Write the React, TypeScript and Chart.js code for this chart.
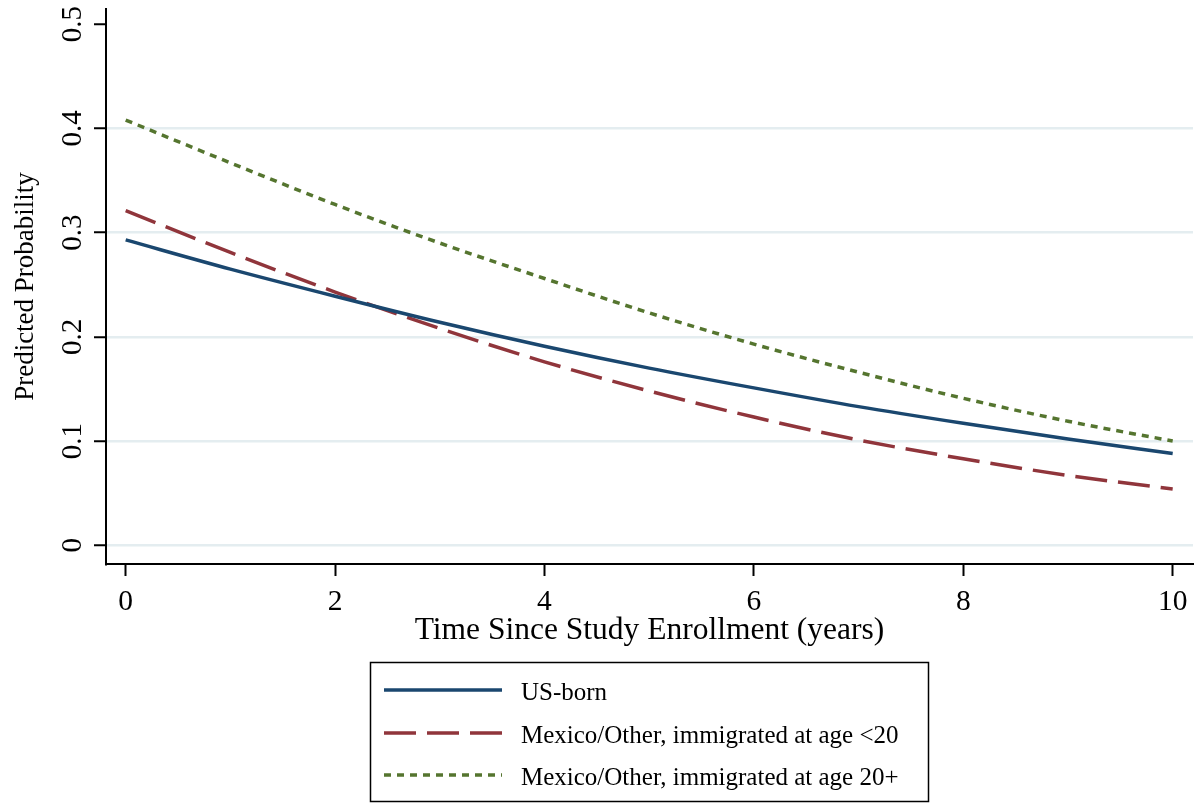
import React, { useEffect, useRef } from "react";
import { Chart, registerables } from "chart.js";

Chart.register(...registerables);

const years = [0, 1, 2, 3, 4, 5, 6, 7, 8, 9, 10];
const usBorn = [0.293, 0.265, 0.239, 0.214, 0.191, 0.17, 0.151, 0.133, 0.117, 0.102, 0.088];
const immigUnder20 = [0.321, 0.281, 0.243, 0.208, 0.176, 0.148, 0.123, 0.101, 0.083, 0.067, 0.054];
const immig20Plus = [0.408, 0.367, 0.327, 0.29, 0.256, 0.223, 0.193, 0.166, 0.141, 0.119, 0.1];
const seriesLabels = [
  "US-born",
  "Mexico/Other, immigrated at age <20",
  "Mexico/Other, immigrated at age 20+",
];
const xTicks = [0, 2, 4, 6, 8, 10];
const yTicks = [0, 0.1, 0.2, 0.3, 0.4, 0.5];
const yTickLabels = ["0", "0.1", "0.2", "0.3", "0.4", "0.5"];
const xTitle = "Time Since Study Enrollment (years)";
const yTitle = "Predicted Probability";

const FONT = '"Liberation Serif", "Times New Roman", serif';
const NAVY = "#1a476f";
const MAROON = "#90353b";
const FOREST = "#55752f";
const GRID = "#e4edf0";

const textPlugin = {
  id: "stataText",
  afterDraw(chart: any) {
    const ctx = chart.ctx;
    const xs = chart.scales.x;
    const ys = chart.scales.y;
    ctx.save();
    ctx.fillStyle = "#000";
    // x tick labels
    ctx.font = `29.5px ${FONT}`;
    ctx.textAlign = "center";
    ctx.textBaseline = "alphabetic";
    xTicks.forEach((v) => {
      ctx.fillText(String(v), xs.getPixelForValue(v), 610);
    });
    // y tick labels (rotated)
    ctx.font = `29px ${FONT}`;
    yTicks.forEach((v, i) => {
      ctx.save();
      ctx.translate(81, ys.getPixelForValue(v));
      ctx.rotate(-Math.PI / 2);
      ctx.textAlign = "center";
      ctx.fillText(yTickLabels[i], 0, 0);
      ctx.restore();
    });
    // x title
    ctx.font = `31.5px ${FONT}`;
    ctx.textAlign = "center";
    ctx.fillText(xTitle, (chart.chartArea.left + chart.chartArea.right) / 2, 639);
    // y title
    ctx.save();
    ctx.font = `27px ${FONT}`;
    ctx.translate(33, (chart.chartArea.top + chart.chartArea.bottom) / 2);
    ctx.rotate(-Math.PI / 2);
    ctx.textAlign = "center";
    ctx.fillText(yTitle, 0, 0);
    ctx.restore();

    // legend
    ctx.lineWidth = 1.5;
    ctx.strokeStyle = "#000";
    ctx.setLineDash([]);
    ctx.strokeRect(370.5, 662.5, 558, 139);
    const rows = [690, 733, 775];
    chart.data.datasets.forEach((ds: any, i: number) => {
      const y = rows[i];
      ctx.beginPath();
      ctx.strokeStyle = ds.borderColor;
      ctx.lineWidth = ds.borderWidth;
      ctx.setLineDash(ds.borderDash || []);
      ctx.moveTo(384, y);
      ctx.lineTo(502, y);
      ctx.stroke();
      ctx.setLineDash([]);
      ctx.fillStyle = "#000";
      ctx.font = `25px ${FONT}`;
      ctx.textAlign = "left";
      ctx.textBaseline = "alphabetic";
      ctx.fillText(ds.label, 521, y + 9.5);
    });
    ctx.restore();
  },
};

export default function App() {
  const ref = useRef<HTMLCanvasElement | null>(null);
  useEffect(() => {
    if (!ref.current) return;
    const chart = new Chart(ref.current, {
      type: "line",
      data: {
        datasets: [
          {
            label: seriesLabels[0],
            data: years.map((x, i) => ({ x, y: usBorn[i] })),
            borderColor: NAVY,
            borderWidth: 3.5,
            pointRadius: 0,
            cubicInterpolationMode: "monotone",
          },
          {
            label: seriesLabels[1],
            data: years.map((x, i) => ({ x, y: immigUnder20[i] })),
            borderColor: MAROON,
            borderWidth: 3.5,
            borderDash: [32, 11],
            pointRadius: 0,
            cubicInterpolationMode: "monotone",
          },
          {
            label: seriesLabels[2],
            data: years.map((x, i) => ({ x, y: immig20Plus[i] })),
            borderColor: FOREST,
            borderWidth: 3.5,
            borderDash: [7, 6],
            pointRadius: 0,
            cubicInterpolationMode: "monotone",
          },
        ],
      },
      options: {
        responsive: false,
        animation: false,
        devicePixelRatio: 1,
        layout: { padding: { top: 9, right: 6, left: 0, bottom: 0 } },
        plugins: { legend: { display: false }, tooltip: { enabled: false } },
        scales: {
          x: {
            type: "linear",
            min: -0.188,
            max: 10.194,
            afterBuildTicks: (s: any) => {
              s.ticks = xTicks.map((v) => ({ value: v }));
            },
            afterFit: (s: any) => {
              s.height = 240;
            },
            ticks: { display: false },
            grid: {
              drawOnChartArea: false,
              tickColor: "#000",
              tickLength: 12,
              tickWidth: 2,
            },
            border: { color: "#000", width: 2 },
          },
          y: {
            type: "linear",
            min: -0.018,
            max: 0.5146,
            afterBuildTicks: (s: any) => {
              s.ticks = yTicks.map((v) => ({ value: v }));
            },
            afterFit: (s: any) => {
              s.width = 106;
            },
            ticks: { display: false },
            grid: {
              color: (c: any) =>
                c.tick && c.tick.value > 0.45 ? "rgba(0,0,0,0)" : GRID,
              lineWidth: 2.5,
              tickColor: "#000",
              tickLength: 12,
              tickWidth: 2,
            },
            border: { color: "#000", width: 2 },
          },
        },
      },
      plugins: [textPlugin],
    });
    return () => chart.destroy();
  }, []);
  return (
    <div style={{ position: "absolute", left: 0, top: 0, width: 1199, height: 804, background: "#fff" }}>
      <canvas ref={ref} width={1199} height={804} style={{ width: 1199, height: 804, display: "block" }} />
    </div>
  );
}
